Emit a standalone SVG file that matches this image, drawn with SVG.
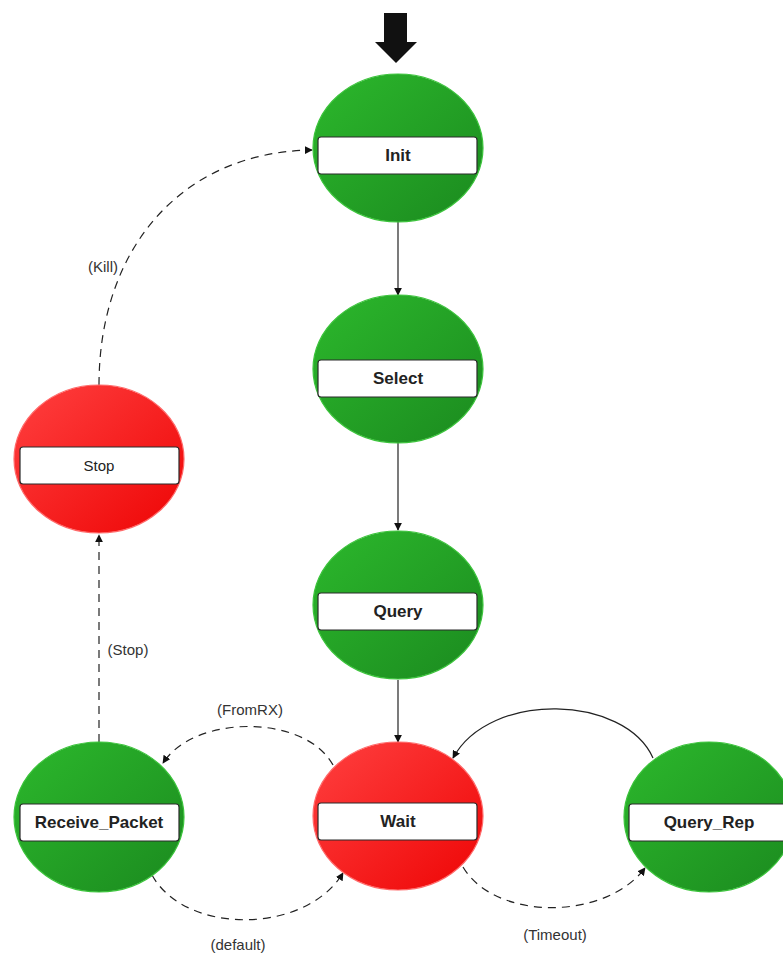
<svg xmlns="http://www.w3.org/2000/svg" width="783" height="954" viewBox="0 0 783 954">
<defs>
<linearGradient id="gGreen" x1="0" y1="0" x2="1" y2="1">
<stop offset="0" stop-color="#2cb82c"/>
<stop offset="1" stop-color="#1b8a1f"/>
</linearGradient>
<linearGradient id="gRed" x1="0" y1="0" x2="1" y2="1">
<stop offset="0" stop-color="#ff4040"/>
<stop offset="1" stop-color="#ee0505"/>
</linearGradient>
<marker id="arr" viewBox="0 0 10 10" refX="9" refY="5" markerWidth="8" markerHeight="8" markerUnits="userSpaceOnUse" orient="auto">
<path d="M0,0 L10,5 L0,10 Z" fill="#111"/>
</marker>
<style>
.green{fill:url(#gGreen);stroke:#3cc43c;stroke-width:1.2}
.red{fill:url(#gRed);stroke:#ff6a6a;stroke-width:1.2}
.box{fill:#fff;stroke:#2a2a2a;stroke-width:1.2}
.lbl{font-family:"Liberation Sans",Arial,sans-serif;font-size:17px;font-weight:bold;fill:#222;text-anchor:middle}
.lblr{font-family:"Liberation Sans",Arial,sans-serif;font-size:15px;fill:#222;text-anchor:middle}
.el{font-family:"Liberation Sans",Arial,sans-serif;font-size:15px;fill:#333;text-anchor:middle}
.solid{fill:none;stroke:#222;stroke-width:1.2;marker-end:url(#arr)}
.dash{fill:none;stroke:#222;stroke-width:1.2;stroke-dasharray:8,6;marker-end:url(#arr)}
</style>
</defs>
<rect width="783" height="954" fill="#fff"/>

<g id="connectors">
<path class="solid" d="M398,222 L398,295"/>
<path class="solid" d="M398,443 L398,530"/>
<path class="solid" d="M398,680 L398,742"/>
<path class="solid" d="M653,758 C625,695 490,690 453,758"/>
<path class="dash" d="M333,765 C305,714 195,714 163,763"/>
<path class="dash" d="M152,875 C185,935 305,935 343,873"/>
<path class="dash" d="M463,867 C495,921 605,921 645,868"/>
<path class="dash" d="M99,742 L99,535"/>
<path class="dash" d="M99,385 C99,250 180,152 312,150"/>
<text class="el" x="250" y="715">(FromRX)</text>
<text class="el" x="238" y="950">(default)</text>
<text class="el" x="555" y="940">(Timeout)</text>
<text class="el" x="128" y="655">(Stop)</text>
<text class="el" x="103" y="272">(Kill)</text>
</g>

<g id="start">
<path d="M384,13 L407,13 L407,42 L417,42 L396,63 L375,42 L384,42 Z" fill="#111"/>
</g>

<g id="Init">
<ellipse class="green" cx="398" cy="148" rx="85" ry="74"/>
<rect class="box" x="318" y="137" width="159" height="37" rx="3"/>
<text class="lbl" x="398" y="161">Init</text>
</g>

<g id="Select">
<ellipse class="green" cx="398" cy="369" rx="85" ry="74"/>
<rect class="box" x="318" y="360" width="159" height="37" rx="3"/>
<text class="lbl" x="398" y="384">Select</text>
</g>

<g id="Query">
<ellipse class="green" cx="398" cy="605" rx="85" ry="74"/>
<rect class="box" x="318" y="593" width="159" height="37" rx="3"/>
<text class="lbl" x="398" y="617">Query</text>
</g>

<g id="Wait">
<ellipse class="red" cx="398" cy="816" rx="85" ry="74"/>
<rect class="box" x="318" y="803" width="159" height="37" rx="3"/>
<text class="lbl" x="398" y="827">Wait</text>
</g>

<g id="Receive_Packet">
<ellipse class="green" cx="99" cy="817" rx="85" ry="75"/>
<rect class="box" x="20" y="804" width="159" height="37" rx="3"/>
<text class="lbl" x="99" y="828">Receive_Packet</text>
</g>

<g id="Query_Rep">
<ellipse class="green" cx="709" cy="817" rx="85" ry="75"/>
<rect class="box" x="629" y="804" width="159" height="37" rx="3"/>
<text class="lbl" x="709" y="828">Query_Rep</text>
</g>

<g id="Stop">
<ellipse class="red" cx="99" cy="459" rx="85" ry="74"/>
<rect class="box" x="20" y="447" width="159" height="37" rx="3"/>
<text class="lblr" x="99" y="471">Stop</text>
</g>
</svg>
